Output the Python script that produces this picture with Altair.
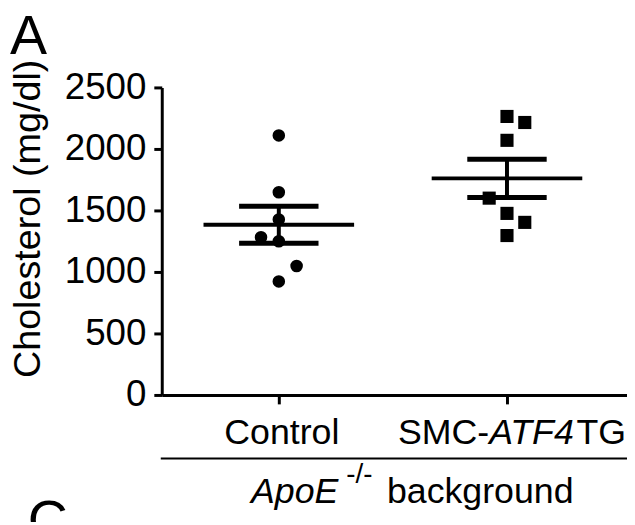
import altair as alt
import pandas as pd
import numpy as np

# ---- data ----
groups = ["Control", "SMC-ATF4TG"]
control_values = [2110, 1648, 1427, 1282, 1250, 1048, 923]
control_cols = [0, 0, 0, -1, 0, 1, 0]          # scatter column (-1 left, 0 centre, 1 right)
smc_values = [2264, 2215, 2070, 1600, 1476, 1403, 1296]
smc_cols = [0, 1, 0, -1, 0, 1, 0]
y_ticks = [0, 500, 1000, 1500, 2000, 2500]

JITTER = 0.078
FONT = "Liberation Sans"

def points(gi, vals, cols):
    return pd.DataFrame({"group": groups[gi],
                         "pos": [gi + c * JITTER for c in cols],
                         "value": vals})

ctrl_df = points(0, control_values, control_cols)
smc_df = points(1, smc_values, smc_cols)

rows = []
for gi, vals in enumerate([control_values, smc_values]):
    a = np.array(vals, dtype=float)
    m = a.mean()
    s = a.std(ddof=1) / np.sqrt(len(a))
    rows.append({"group": groups[gi], "pos": gi, "mean": m, "lo": m - s, "hi": m + s,
                 "ml": gi - 0.33, "mr": gi + 0.33, "sl": gi - 0.174, "sr": gi + 0.174})
summ = pd.DataFrame(rows)

xs = alt.Scale(domain=[-0.513, 1.526], nice=False, zero=False)
ys = alt.Scale(domain=[0, 2500], nice=False)

x_axis = alt.Axis(values=[0, 1], labels=False, title=None, grid=False,
                  tickSize=9, tickWidth=3, domainWidth=3)
y_axis = alt.Axis(values=y_ticks, format="d", grid=False, tickSize=8, tickWidth=3,
                  domainWidth=3, labelFontSize=37, labelPadding=8, labelFont=FONT,
                  title="Cholesterol (mg/dl)", titleFontSize=38, titleFont=FONT,
                  titleFontWeight="normal", titleAngle=270, titleX=-123, titleY=132,
                  titleAlign="center", titleBaseline="alphabetic")

def X(f):
    return alt.X(f, scale=xs, axis=x_axis)

def Y(f):
    return alt.Y(f, scale=ys, axis=y_axis)

ctrl_pts = alt.Chart(ctrl_df).mark_point(filled=True, shape="circle", size=160,
                                         color="black", opacity=1, strokeWidth=0).encode(
    x=X("pos:Q"), y=Y("value:Q"))
smc_pts = alt.Chart(smc_df).mark_point(filled=True, shape="square", size=175,
                                       color="black", opacity=1, strokeWidth=0).encode(
    x=X("pos:Q"), y=Y("value:Q"))

base = alt.Chart(summ)
mean_line = base.mark_rule(color="black", strokeWidth=4).encode(
    x=X("ml:Q"), x2="mr:Q", y=Y("mean:Q"))
sem_hi = base.mark_rule(color="black", strokeWidth=5).encode(
    x=X("sl:Q"), x2="sr:Q", y=Y("hi:Q"))
sem_lo = base.mark_rule(color="black", strokeWidth=5).encode(
    x=X("sl:Q"), x2="sr:Q", y=Y("lo:Q"))
sem_v = base.mark_rule(color="black", strokeWidth=4).encode(
    x=X("pos:Q"), y=Y("lo:Q"), y2="hi:Q")

# ---- category labels (mixed italic) ----
lab_ctrl = pd.DataFrame({"pos": [0], "t": ["Control"]})
lab_smc = pd.DataFrame({"pos": [1], "a": ["SMC-"], "b": ["ATF4"], "c": ["TG"]})

def txt(df, field, y, **kw):
    props = dict(font=FONT, fontSize=36, color="black", baseline="alphabetic")
    props.update(kw)
    return alt.Chart(df).mark_text(**props).encode(
        x=X("pos:Q"), y=alt.value(y), text=f"{field}:N")

t_ctrl = txt(lab_ctrl, "t", 359, align="center", dx=3)
t_smc1 = txt(lab_smc, "a", 359, align="right", dx=-18)
t_smc2 = txt(lab_smc, "b", 359, align="left", dx=-18, fontStyle="italic")
t_smc3 = txt(lab_smc, "c", 359, align="left", dx=70)

# ---- background annotation ----
bg = pd.DataFrame({"pos": [0], "a": ["ApoE"], "b": ["-/-"], "c": ["background"]})
t_apo = txt(bg, "a", 419, align="left", dx=-28, fontStyle="italic")
t_sup = txt(bg, "b", 399, align="left", dx=68, fontSize=28)
t_bgw = txt(bg, "c", 419, align="left", dx=109)
sep = alt.Chart(bg).mark_rule(color="black", strokeWidth=2).encode(
    x=alt.value(-1), x2=alt.value(469), y=alt.value(374))

# ---- panel letters ----
letters = pd.DataFrame({"a": ["A"], "c": ["C"]})
t_A = alt.Chart(letters).mark_text(font=FONT, fontSize=56, align="left",
                                   baseline="alphabetic", color="black").encode(
    x=alt.value(-153), y=alt.value(-34), text="a:N")
t_C = alt.Chart(letters).mark_text(font=FONT, fontSize=56, align="left",
                                   baseline="alphabetic", color="black").encode(
    x=alt.value(-135), y=alt.value(455), text="c:N")

chart = alt.layer(
    ctrl_pts, smc_pts, mean_line, sem_hi, sem_lo, sem_v,
    t_ctrl, t_smc1, t_smc2, t_smc3, t_apo, t_sup, t_bgw, sep, t_A, t_C
).properties(
    width=469, height=310,
    autosize=alt.AutoSizeParams(type="none"),
    padding={"left": 155, "top": 78, "right": 0, "bottom": 126},
).configure_view(stroke=None).configure_axis(
    domainColor="black", tickColor="black", labelColor="black", titleColor="black"
)

chart.save("out.html", embed_options={"renderer": "svg", "actions": False})
